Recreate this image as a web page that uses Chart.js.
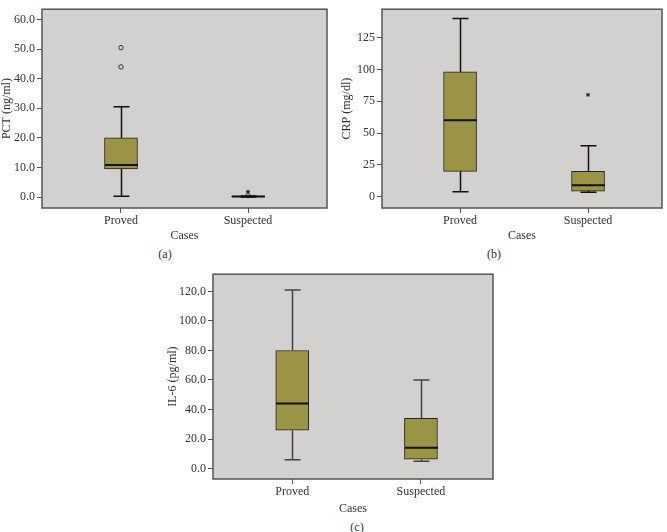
<!DOCTYPE html>
<html>
<head>
<meta charset="utf-8">
<script src="https://cdn.jsdelivr.net/npm/chart.js@4"></script>
<style>
  body { margin: 0; background: #fff; width: 667px; height: 532px; position: relative; overflow: hidden; font-family: "Liberation Serif", serif; }
  .panel { position: absolute; }
  .tag { position: absolute; font-size: 12px; color: #333; transform: translateX(-50%); }
</style>
</head>
<body>
<div class="panel" style="left:0;top:0;width:333px;height:245px"><canvas id="chartA"></canvas></div>
<div class="panel" style="left:340px;top:0;width:327px;height:245px"><canvas id="chartB"></canvas></div>
<div class="panel" style="left:166px;top:265px;width:332px;height:251px"><canvas id="chartC"></canvas></div>
<div class="tag" style="left:165px;top:247px">(a)</div>
<div class="tag" style="left:494px;top:247px">(b)</div>
<div class="tag" style="left:357px;top:520px">(c)</div>
<script>
var cases = ['Proved', 'Suspected'];

// PCT (ng/ml)
var pctLow = [0.3, 0.05];
var pctQ1 = [9.5, 0.1];
var pctMed = [10.8, 0.2];
var pctQ3 = [20, 0.3];
var pctHigh = [30.5, 0.35];
var pctCircleX = [0, 0, 1];
var pctCircleY = [50.5, 44, 0.5];
var pctStarX = [1];
var pctStarY = [1.8];
var pctTicks = [0, 10, 20, 30, 40, 50, 60];

// CRP (mg/dl)
var crpLow = [4, 3.5];
var crpQ1 = [20, 4.5];
var crpMed = [60, 9];
var crpQ3 = [98, 20];
var crpHigh = [140, 40];
var crpCircleX = [];
var crpCircleY = [];
var crpStarX = [1];
var crpStarY = [80];
var crpTicks = [0, 25, 50, 75, 100, 125];

// IL-6 (pg/ml)
var il6Low = [6, 5];
var il6Q1 = [26, 6.3];
var il6Med = [44, 14];
var il6Q3 = [80, 34];
var il6High = [121, 60];
var il6CircleX = [];
var il6CircleY = [];
var il6StarX = [];
var il6StarY = [];
var il6Ticks = [0, 20, 40, 60, 80, 100, 120];

var FONT = { family: '"Liberation Serif", "Times New Roman", serif', size: 12 };
var TEXT = '#333';
var PLOT_BG = '#d3d1cf';
var FRAME = '#555';
var BOX_FILL = '#9b9447';

function boxPlugin(low, med, high, whiskerColor) {
  return {
    id: 'boxes',
    beforeDraw(chart) {
      var a = chart.chartArea, ctx = chart.ctx;
      ctx.save();
      ctx.fillStyle = PLOT_BG;
      ctx.fillRect(a.left, a.top, a.width, a.height);
      ctx.restore();
    },
    afterDatasetsDraw(chart) {
      var ctx = chart.ctx, xs = chart.scales.x, ys = chart.scales.y;
      var q = chart.data.datasets[0].data;
      ctx.save();
      for (var i = 0; i < cases.length; i++) {
        var x = Math.round(xs.getPixelForValue(i)) + 0.5;
        var yq1 = ys.getPixelForValue(q[i].y[0]);
        var yq3 = ys.getPixelForValue(q[i].y[1]);
        var ylo = ys.getPixelForValue(low[i]);
        var yhi = ys.getPixelForValue(high[i]);
        ctx.strokeStyle = whiskerColor;
        ctx.lineWidth = 1.5;
        ctx.beginPath();
        ctx.moveTo(x, yq3); ctx.lineTo(x, yhi);
        ctx.moveTo(x, yq1); ctx.lineTo(x, ylo);
        ctx.moveTo(x - 8, yhi); ctx.lineTo(x + 8, yhi);
        ctx.moveTo(x - 8, ylo); ctx.lineTo(x + 8, ylo);
        ctx.stroke();
        var ym = ys.getPixelForValue(med[i]);
        ctx.strokeStyle = '#111';
        ctx.lineWidth = 2;
        ctx.beginPath();
        ctx.moveTo(x - 16.5, ym); ctx.lineTo(x + 16.5, ym);
        ctx.stroke();
      }
      ctx.restore();
    },
    afterDraw(chart) {
      var a = chart.chartArea, ctx = chart.ctx;
      ctx.save();
      ctx.strokeStyle = FRAME;
      ctx.lineWidth = 1.5;
      ctx.strokeRect(a.left, a.top, a.width, a.height);
      ctx.restore();
    }
  };
}

function makeChart(id, o) {
  var boxData = cases.map(function (c, i) { return { x: i, y: [o.q1[i], o.q3[i]] }; });
  var circles = o.circleX.map(function (x, i) { return { x: x, y: o.circleY[i] }; });
  var stars = o.starX.map(function (x, i) { return { x: x, y: o.starY[i] }; });
  new Chart(document.getElementById(id), {
    type: 'bar',
    data: {
      datasets: [
        { type: 'bar', data: boxData, backgroundColor: BOX_FILL, borderColor: '#222', borderWidth: 1,
          borderSkipped: false, barThickness: 33 },
        { type: 'scatter', data: circles, pointStyle: 'circle', pointRadius: 2.2,
          borderColor: '#333', borderWidth: 1, backgroundColor: PLOT_BG },
        { type: 'scatter', data: stars, pointStyle: 'star', pointRadius: 2,
          borderColor: '#222', borderWidth: 1 }
      ]
    },
    options: {
      responsive: true,
      maintainAspectRatio: false,
      animation: false,
      layout: { padding: { top: 4, right: o.padRight, left: 0, bottom: 0 } },
      plugins: { legend: { display: false }, tooltip: { enabled: false } },
      scales: {
        x: {
          type: 'linear', min: o.xMin, max: o.xMax, offset: false,
          afterBuildTicks: function (s) { s.ticks = cases.map(function (c, i) { return { value: i }; }); },
          afterFit: function (s) { s.height = o.xHeight; },
          ticks: { callback: function (v) { return cases[v]; }, color: TEXT, font: FONT, padding: 1,
                   autoSkip: false, maxRotation: 0 },
          grid: { drawOnChartArea: false, drawTicks: true, tickLength: 5, color: FRAME, offset: false },
          border: { display: false },
          title: { display: true, text: 'Cases', color: TEXT, font: FONT, padding: { top: 0, bottom: o.titlePad } }
        },
        y: {
          type: 'linear', min: o.yMin, max: o.yMax,
          afterBuildTicks: function (s) { s.ticks = o.ticks.map(function (v) { return { value: v }; }); },
          afterFit: function (s) { s.width = o.yWidth; },
          ticks: { callback: function (v) { return v.toFixed(o.dec); }, color: TEXT, font: FONT, padding: 2 },
          grid: { drawOnChartArea: false, drawTicks: true, tickLength: 5, color: FRAME },
          border: { display: false },
          title: { display: true, text: o.title, color: TEXT, font: FONT, padding: 0 }
        }
      }
    },
    plugins: [boxPlugin(o.low, o.med, o.high, o.whisker)]
  });
}

makeChart('chartA', {
  q1: pctQ1, q3: pctQ3, low: pctLow, med: pctMed, high: pctHigh,
  circleX: pctCircleX, circleY: pctCircleY, starX: pctStarX, starY: pctStarY,
  ticks: pctTicks, dec: 1, yMin: -3.7, yMax: 63.5, xMin: -0.622, xMax: 1.622,
  yWidth: 42, xHeight: 37, padRight: 6, titlePad: 2, title: 'PCT (ng/ml)', whisker: '#111'
});
makeChart('chartB', {
  q1: crpQ1, q3: crpQ3, low: crpLow, med: crpMed, high: crpHigh,
  circleX: crpCircleX, circleY: crpCircleY, starX: crpStarX, starY: crpStarY,
  ticks: crpTicks, dec: 0, yMin: -8.8, yMax: 147.2, xMin: -0.61, xMax: 1.578,
  yWidth: 42, xHeight: 37, padRight: 5, titlePad: 2, title: 'CRP (mg/dl)', whisker: '#111'
});
makeChart('chartC', {
  q1: il6Q1, q3: il6Q3, low: il6Low, med: il6Med, high: il6High,
  circleX: il6CircleX, circleY: il6CircleY, starX: il6StarX, starY: il6StarY,
  ticks: il6Ticks, dec: 1, yMin: -7.1, yMax: 131.7, xMin: -0.616, xMax: 1.56,
  yWidth: 47, xHeight: 37, padRight: 5, titlePad: 0, title: 'IL-6 (pg/ml)', whisker: '#444'
});
</script>
</body>
</html>
